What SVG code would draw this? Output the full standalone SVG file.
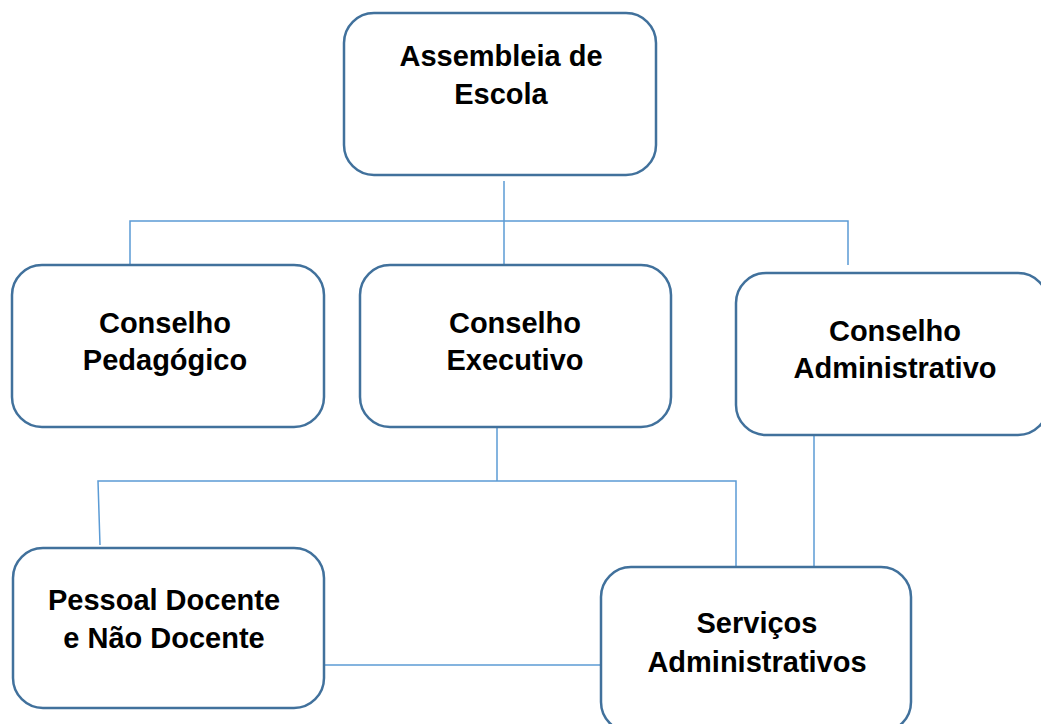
<svg xmlns="http://www.w3.org/2000/svg" width="1041" height="724" viewBox="0 0 1041 724">
<style>
.box{fill:#ffffff;stroke:#41719C;stroke-width:2.5}
.t{font-family:"Liberation Sans",Arial,sans-serif;font-weight:bold;font-size:29px;fill:#000;text-anchor:middle}
.c{fill:none;stroke:#5B9BD5;stroke-width:1.5}
</style>
<rect width="1041" height="724" fill="#fff"/>
<g id="connectors">
<line class="c" x1="504" y1="181" x2="504" y2="270"/>
<polyline class="c" points="130,265 130,221 848,221 848,265"/>
<line class="c" x1="497" y1="427" x2="497" y2="481"/>
<polyline class="c" points="100,545 98,481 736,481 736,567"/>
<line class="c" x1="814" y1="435" x2="814" y2="567"/>
<line class="c" x1="324" y1="665" x2="601" y2="665"/>
</g>
<g id="assembleia">
<rect class="box" x="344" y="13" width="312" height="162" rx="30"/>
<text class="t" x="501" y="66">Assembleia de</text>
<text class="t" x="501" y="104">Escola</text>
</g>
<g id="pedagogico">
<rect class="box" x="12" y="265" width="312" height="162" rx="30"/>
<text class="t" x="165" y="333">Conselho</text>
<text class="t" x="165" y="370">Pedagógico</text>
</g>
<g id="executivo">
<rect class="box" x="360" y="265" width="311" height="162" rx="30"/>
<text class="t" x="515" y="333">Conselho</text>
<text class="t" x="515" y="370">Executivo</text>
</g>
<g id="administrativo">
<rect class="box" x="736" y="273" width="312" height="162" rx="30"/>
<text class="t" x="895" y="341">Conselho</text>
<text class="t" x="895" y="378">Administrativo</text>
</g>
<g id="pessoal">
<rect class="box" x="13" y="548" width="311" height="160" rx="30"/>
<text class="t" x="164" y="610">Pessoal Docente</text>
<text class="t" x="164" y="648">e Não Docente</text>
</g>
<g id="servicos">
<rect class="box" x="601" y="567" width="310" height="165" rx="30"/>
<text class="t" x="757" y="633">Serviços</text>
<text class="t" x="757" y="672">Administrativos</text>
</g>
</svg>
